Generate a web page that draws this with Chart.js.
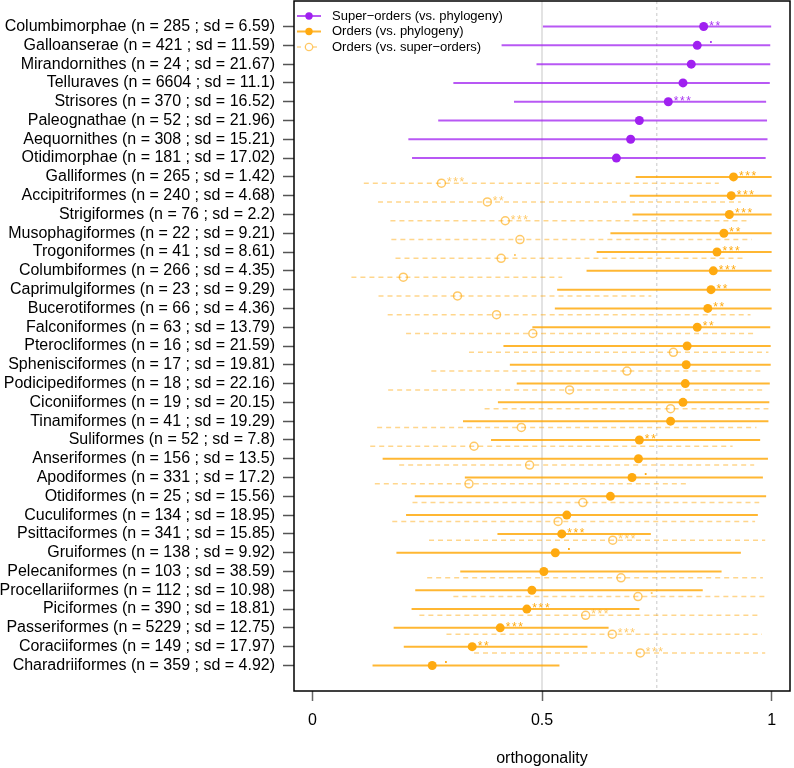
<!DOCTYPE html>
<html>
<head>
<meta charset="utf-8">
<script src="https://cdn.jsdelivr.net/npm/chart.js@4/dist/chart.umd.min.js"></script>
<style>html,body{margin:0;padding:0;background:#fff;}canvas{display:block;}</style>
</head>
<body>
<canvas id="c" width="794" height="768"></canvas>
<script>
// ---------- data ----------
const cladeNames = ["Columbimorphae","Galloanserae","Mirandornithes","Telluraves","Strisores","Paleognathae","Aequornithes","Otidimorphae",
  "Galliformes","Accipitriformes","Strigiformes","Musophagiformes","Trogoniformes","Columbiformes","Caprimulgiformes","Bucerotiformes",
  "Falconiformes","Pterocliformes","Sphenisciformes","Podicipediformes","Ciconiiformes","Tinamiformes","Suliformes","Anseriformes",
  "Apodiformes","Otidiformes","Cuculiformes","Psittaciformes","Gruiformes","Pelecaniformes","Procellariiformes","Piciformes",
  "Passeriformes","Coraciiformes","Charadriiformes"];
const cladeN = [285,421,24,6604,370,52,308,181,265,240,76,22,41,266,23,66,63,16,17,18,19,41,52,156,331,25,134,341,138,103,112,390,5229,149,359];
const cladeSd = ["6.59","11.59","21.67","11.1","16.52","21.96","15.21","17.02","1.42","4.68","2.2","9.21","8.61","4.35","9.29","4.36","13.79",
  "21.59","19.81","22.16","20.15","19.29","7.8","13.5","17.2","15.56","18.95","15.85","9.92","38.59","10.98","18.81","12.75","17.97","4.92"];

// Super-orders (vs. phylogeny): rows 0..7
const superMed  = [0.852,0.838,0.825,0.807,0.775,0.712,0.693,0.662];
const superLow  = [0.502,0.412,0.488,0.307,0.439,0.274,0.209,0.217];
const superHigh = [0.999,0.997,0.997,0.996,0.988,0.990,0.991,0.987];
const superSig  = ["**",".","","","***","","",""];

// Orders (vs. phylogeny): rows 8..34
const orderMed  = [0.917,0.912,0.908,0.896,0.881,0.873,0.868,0.861,0.838,0.816,0.814,0.812,0.807,0.780,0.712,0.710,0.696,0.649,0.554,0.543,0.529,0.504,0.478,0.467,0.409,0.348,0.261];
const orderLow  = [0.704,0.691,0.697,0.649,0.619,0.597,0.533,0.528,0.479,0.416,0.430,0.445,0.404,0.328,0.389,0.153,0.332,0.223,0.204,0.403,0.183,0.322,0.224,0.216,0.177,0.199,0.131];
const orderHigh = [1.000,1.000,1.000,1.000,1.000,1.000,0.998,1.000,0.997,0.998,0.998,0.996,0.995,0.993,0.975,0.992,0.981,0.988,0.970,0.737,0.933,0.891,0.850,0.712,0.645,0.599,0.538];
const orderSig  = ["***","***","***","**","***","***","**","**","**","","","","","","**","",".","","","***",".","","","***","***","**","."];

// Orders (vs. super-orders): rows 8..34 (null = not available)
const subMed  = [0.281,0.381,0.420,0.452,0.411,0.198,0.316,0.401,0.480,0.786,0.685,0.560,0.780,0.455,0.352,0.473,0.341,0.589,0.535,0.654,null,0.672,0.709,0.595,0.653,0.714,null];
const subLow  = [0.112,0.143,0.170,0.172,0.181,0.085,0.144,0.164,0.204,0.341,0.259,0.165,0.375,0.141,0.126,0.189,0.136,0.218,0.174,0.254,null,0.250,0.307,0.233,0.292,0.352,null];
const subHigh = [0.885,0.933,0.954,0.957,0.937,0.544,0.738,0.954,0.961,0.993,0.980,0.984,0.993,0.967,0.915,0.962,0.822,0.973,0.964,0.986,null,0.981,0.990,0.972,0.979,0.986,null];
const subSig  = ["***","**","***","",".","","","","","","","","","","","","","","","***","","",".","***","***","***",""];

const xTicks = [0, 0.5, 1];
const xTickLabels = ["0", "0.5", "1"];
const refLines = [0.5, 0.75];
const legendLabels = ["Super\u2212orders (vs. phylogeny)", "Orders (vs. phylogeny)", "Orders (vs. super\u2212orders)"];
const axisTitle = "orthogonality";

// ---------- styles ----------
const PURPLE = "#A020F0", PURPLE_LINE = "rgba(160,32,240,0.75)", PURPLE_TXT = "rgba(160,32,240,0.9)";
const ORANGE = "#FFAA10", ORANGE_LINE = "rgba(255,165,0,0.8)", ORANGE_TXT = "rgba(255,170,16,1)";
const ORANGE_DASH = "rgba(255,165,0,0.45)", ORANGE_HOLLOW = "rgba(255,165,0,0.6)", ORANGE_HOLLOW_TXT = "rgba(255,165,0,0.6)";
const SUB_OFFSET = 0.335;
const nSuper = superMed.length;

const rowLabels = cladeNames.map((n, i) => `${n} (n = ${cladeN[i]} ; sd = ${cladeSd[i]})`);

Chart.defaults.font.family = "'Liberation Sans', Arial, Helvetica, sans-serif";

const datasets = [];
datasets.push({
  label: legendLabels[0], order: 0,
  data: superMed.map((v, i) => ({x: v, y: i})),
  pointRadius: 4.5, pointBackgroundColor: PURPLE, pointBorderColor: PURPLE, pointBorderWidth: 0, showLine: false
});
datasets.push({
  label: legendLabels[1], order: 0,
  data: orderMed.map((v, i) => ({x: v, y: i + nSuper})),
  pointRadius: 4.5, pointBackgroundColor: ORANGE, pointBorderColor: ORANGE, pointBorderWidth: 0, showLine: false
});
datasets.push({
  label: legendLabels[2], order: 0,
  data: subMed.map((v, i) => v === null ? null : ({x: v, y: i + nSuper + SUB_OFFSET})).filter(p => p),
  pointRadius: 4, pointBackgroundColor: "rgba(0,0,0,0)", pointBorderColor: ORANGE_HOLLOW, pointBorderWidth: 1.5, showLine: false
});
superMed.forEach((_, i) => datasets.push({
  order: 1, showLine: true, pointRadius: 0, borderColor: PURPLE_LINE, borderWidth: 2,
  data: [{x: superLow[i], y: i}, {x: superHigh[i], y: i}]
}));
orderMed.forEach((_, i) => datasets.push({
  order: 1, showLine: true, pointRadius: 0, borderColor: ORANGE_LINE, borderWidth: 2,
  data: [{x: orderLow[i], y: i + nSuper}, {x: orderHigh[i], y: i + nSuper}]
}));
subMed.forEach((v, i) => { if (v !== null) datasets.push({
  order: 2, showLine: true, pointRadius: 0, borderColor: ORANGE_DASH, borderWidth: 1.5, borderDash: [5, 4],
  data: [{x: subLow[i], y: i + nSuper + SUB_OFFSET}, {x: subHigh[i], y: i + nSuper + SUB_OFFSET}]
}); });

const overlay = {
  id: "overlay",
  beforeDatasetsDraw(chart) {
    const {ctx, chartArea: a, scales: {x}} = chart;
    ctx.save();
    refLines.forEach((v, k) => {
      const px = x.getPixelForValue(v);
      ctx.beginPath();
      if (k === 0) { ctx.strokeStyle = "#e3e3e3"; ctx.lineWidth = 2; ctx.setLineDash([]); }
      else { ctx.strokeStyle = "#c8c8c8"; ctx.lineWidth = 1; ctx.setLineDash([3, 3]); }
      ctx.moveTo(px, a.top); ctx.lineTo(px, a.bottom); ctx.stroke();
    });
    ctx.restore();
  },
  afterDatasetsDraw(chart) {
    const {ctx, chartArea: a, scales: {x, y}} = chart;
    ctx.save();
    const drawSig = (val, row, sig, color) => {
      if (val === null || !sig) return;
      const px = x.getPixelForValue(val), py = y.getPixelForValue(row);
      ctx.fillStyle = color; ctx.textAlign = "left"; ctx.textBaseline = "alphabetic";
      if (sig === ".") {
        ctx.font = "bold 12px 'Liberation Sans', Arial, sans-serif";
        ctx.letterSpacing = "0px";
        ctx.fillText(".", px + 12, py - 2.5);
      } else {
        ctx.font = "12px 'Liberation Sans', Arial, sans-serif";
        ctx.letterSpacing = "1.6px";
        ctx.fillText(sig, px + 5.5, py + 3);
      }
    };
    superMed.forEach((v, i) => drawSig(v, i, superSig[i], PURPLE_TXT));
    orderMed.forEach((v, i) => drawSig(v, i + nSuper, orderSig[i], ORANGE_TXT));
    subMed.forEach((v, i) => drawSig(v, i + nSuper + SUB_OFFSET, subSig[i], ORANGE_HOLLOW_TXT));
    ctx.letterSpacing = "0px";
    const lx = a.left + 3, ly = a.top + 15, step = 15.5;
    const styles = [
      {line: PURPLE_LINE, dash: [], pt: PURPLE, fill: true},
      {line: ORANGE_LINE, dash: [], pt: ORANGE, fill: true},
      {line: ORANGE_DASH, dash: [4, 4], pt: ORANGE_HOLLOW, fill: false}
    ];
    legendLabels.forEach((t, k) => {
      const s = styles[k], yy = ly + k * step;
      ctx.beginPath(); ctx.setLineDash(s.dash); ctx.strokeStyle = s.line; ctx.lineWidth = s.fill ? 2 : 1.5;
      ctx.moveTo(lx, yy); ctx.lineTo(lx + 24, yy); ctx.stroke();
      ctx.setLineDash([]);
      ctx.beginPath(); ctx.arc(lx + 12, yy, 3.7, 0, Math.PI * 2);
      if (s.fill) { ctx.fillStyle = s.pt; ctx.fill(); }
      else { ctx.fillStyle = "#fff"; ctx.fill(); ctx.strokeStyle = s.pt; ctx.lineWidth = 1.3; ctx.stroke(); }
      ctx.fillStyle = "#000"; ctx.font = "13px 'Liberation Sans', Arial, sans-serif";
      ctx.textAlign = "left"; ctx.textBaseline = "middle";
      ctx.fillText(t, lx + 35, yy);
    });
    ctx.strokeStyle = "#000"; ctx.lineWidth = 1.5; ctx.setLineDash([]);
    ctx.strokeRect(a.left, a.top, a.right - a.left, a.bottom - a.top);
    ctx.restore();
  }
};

new Chart(document.getElementById("c"), {
  type: "scatter",
  data: {datasets},
  options: {
    responsive: false, animation: false, devicePixelRatio: 1,
    layout: {autoPadding: false, padding: {left: 0, right: 4, top: 1, bottom: 0}},
    plugins: {legend: {display: false}, tooltip: {enabled: false}},
    scales: {
      x: {
        type: "linear", min: -0.04, max: 1.04,
        afterBuildTicks: s => { s.ticks = xTicks.map(v => ({value: v})); },
        afterFit: s => { s.height = 77; s.paddingLeft = 0; s.paddingRight = 0; },
        ticks: {callback: v => xTickLabels[xTicks.indexOf(v)], color: "#000", font: {size: 16}, padding: 10, maxRotation: 0, autoSkip: false},
        grid: {drawOnChartArea: false, drawTicks: true, tickLength: 10, tickColor: "#666", tickWidth: 1.5},
        border: {display: false},
        title: {display: true, text: axisTitle, color: "#000", font: {size: 16}, padding: {top: 0, bottom: 0}}
      },
      y: {
        type: "linear", reverse: true, min: -1.36, max: 35.36,
        afterBuildTicks: s => { s.ticks = rowLabels.map((_, i) => ({value: i})); },
        afterFit: s => { s.width = 294; s.paddingTop = 0; s.paddingBottom = 0; },
        ticks: {callback: v => rowLabels[v], color: "#000", font: {size: 16}, padding: 8, autoSkip: false},
        grid: {drawOnChartArea: false, drawTicks: true, tickLength: 11, tickColor: "#555", tickWidth: 1.5},
        border: {display: false}
      }
    }
  },
  plugins: [overlay]
});
</script>
</body>
</html>
